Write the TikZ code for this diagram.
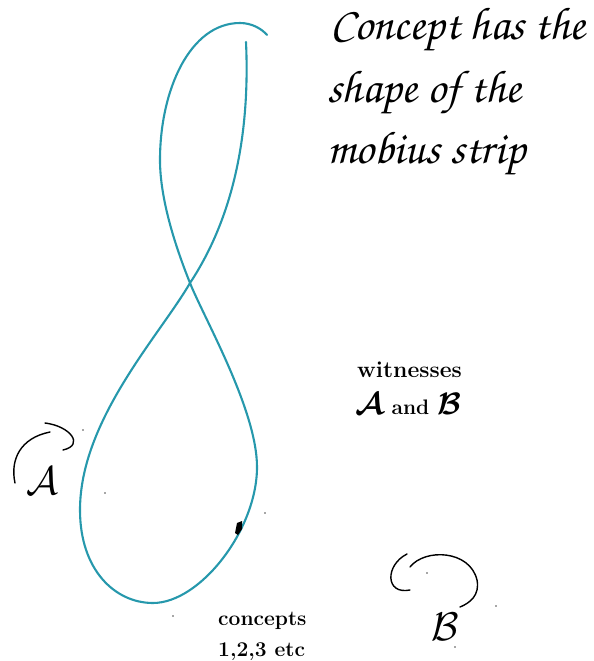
\RequirePackage{fix-cm}
\documentclass[tikz,border=0pt]{standalone}
\usepackage{amsmath}
\definecolor{strip}{RGB}{38,152,172}
\tikzset{
  stripline/.style={draw=strip, line width=2.1pt, line cap=round, line join=round},
  penline/.style={draw=black, line width=1.4pt, line cap=round},
  dust/.style={fill=black!70, draw=none},
  titletext/.style={anchor=base west, inner sep=0pt, font=\fontencoding{T1}\fontfamily{pzc}\fontseries{m}\fontshape{it}\fontsize{46}{50}\selectfont},
  boldtext/.style={anchor=base west, inner sep=0pt, font=\bfseries\fontsize{21}{24}\selectfont},
  lettertext/.style={anchor=center, inner sep=0pt, font=\fontsize{40}{42}\selectfont}
}
\begin{document}
\begin{tikzpicture}[x=1pt,y=-1pt]
\useasboundingbox (0,0) rectangle (594,661);
% strip curve
\coordinate (s0) at (246,42);
\coordinate (cr) at (190,283);
\coordinate (lx) at (80,510);
\coordinate (bt) at (153,603);
\coordinate (rx) at (257,467);
\coordinate (ux) at (160,160);
\coordinate (tp) at (240,23);
\coordinate (se) at (267,35);
\draw[stripline] (s0) .. controls (250,130) and (235,215) .. (cr)
  .. controls (160,335) and (80,420) .. (lx)
  .. controls (80,570) and (115,603) .. (bt)
  .. controls (200,603) and (257,530) .. (rx)
  .. controls (257,410) and (204,318) .. (cr)
  .. controls (176,248) and (160,200) .. (ux)
  .. controls (160,90) and (190,23) .. (tp)
  .. controls (252,23) and (262,29) .. (se);
% pen mark
\fill[black] (235,533) -- (237,523) -- (242,521) -- (242,529) -- (238,535) -- cycle;
% title
\node[titletext] (t1) at (330,40) {Concept has the};
\node[titletext] (t2) at (327,102) {shape of the};
\node[titletext] (t3) at (327,163) {mobius strip};
% witnesses
\node[boldtext, font=\bfseries\fontsize{23}{26}\selectfont] (w1) at (357,377) {witnesses};
\node[boldtext] (w2) at (355,414) {{\fontsize{31}{31}\selectfont$\boldsymbol{\mathcal{A}}$} and {\fontsize{31}{31}\selectfont$\boldsymbol{\mathcal{B}}$}};
% concepts
\node[boldtext] (c1) at (218,625) {concepts};
\node[boldtext] (c2) at (218,656) {1,2,3 etc};
% A witness
\node[lettertext] (la) at (42,481) {$\mathcal{A}$};
\draw[penline] (15,483) .. controls (10,460) and (20,438) .. (50,432);
\draw[penline] (45,423) .. controls (70,426) and (85,445) .. (63,450);
% B witness
\node[lettertext] (lb) at (445,627) {$\mathcal{B}$};
\draw[penline] (407,554) .. controls (385,565) and (385,595) .. (410,590);
\draw[penline] (410,567) .. controls (425,548) and (470,550) .. (477,580) .. controls (480,595) and (470,603) .. (460,607);
% dust specks
\foreach \p in {(83,430),(105,493),(265,513),(173,616),(427,573),(496,606),(455,647)}
  \fill[dust] \p circle (0.8);
\end{tikzpicture}
\end{document}
